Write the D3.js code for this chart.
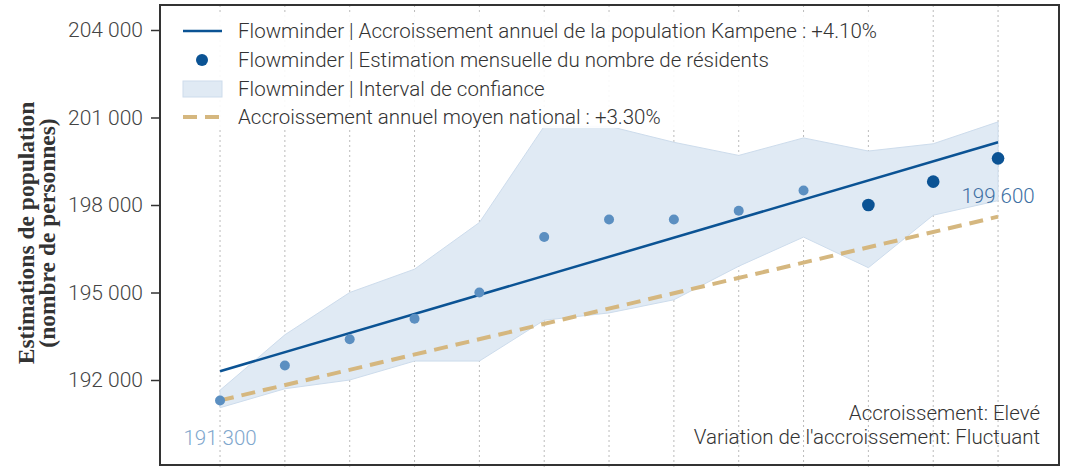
<!DOCTYPE html>
<meta charset="utf-8">
<script src="https://d3js.org/d3.v7.min.js"></script>
<style>
  body { margin: 0; background: #fff; }
</style>
<div id="viz"></div>
<script>

// monthly estimates (index 0..12)
var estimates = [191300, 192500, 193400, 194100, 195000, 196900, 197500, 197500, 197800, 198500, 198000, 198800, 199600];
// confidence interval
var ciUpper = [191650, 193550, 195000, 195800, 197400, 200700, 200700, 200150, 199700, 200300, 199850, 200100, 200850];
var ciLower = [191050, 191700, 192000, 192650, 192650, 194050, 194300, 194750, 195900, 196900, 195850, 197650, 198150];
// trend lines, start / end values
var trendLocal = [192300, 200150];
var trendNational = [191300, 197600];
// last months are drawn darker
var darkFrom = 10;

var yTicks = [192000, 195000, 198000, 201000, 204000];

var legendLabels = [
  "Flowminder | Accroissement annuel de la population Kampene : +4.10%",
  "Flowminder | Estimation mensuelle du nombre de résidents",
  "Flowminder | Interval de confiance",
  "Accroissement annuel moyen national : +3.30%"
];
var notes = ["Accroissement: Elevé", "Variation de l'accroissement: Fluctuant"];

var W = 1069, H = 468;
var margin = {top: 5, right: 10, bottom: 3, left: 160};
var width = W - margin.left - margin.right,
    height = H - margin.top - margin.bottom;

var colDark = "#0b5394", colLight = "#5b8fc1", colBand = "#e0eaf4", colGold = "#d5b77f";
var sans = "Roboto, 'Noto Sans', sans-serif";
var fs = 20.5;

var svg = d3.select("#viz").append("svg")
    .attr("width", W).attr("height", H)
  .append("g")
    .attr("transform", "translate(" + margin.left + "," + margin.top + ")");

var last = estimates.length - 1;
var x = d3.scaleLinear()
    .domain([-0.926, last + 0.94])
    .range([0, width]);

var y = d3.scaleLinear()
    .domain([189086, 204857])
    .range([height, 0]);

var fr = d3.formatLocale({decimal: ",", thousands: " ", grouping: [3], currency: ["", ""]});

// vertical dotted grid
svg.append("g").selectAll("line")
  .data(estimates)
  .enter().append("line")
    .attr("x1", function(d, i) { return x(i); })
    .attr("x2", function(d, i) { return x(i); })
    .attr("y1", 0).attr("y2", height + 3)
    .attr("stroke", "#bbb")
    .attr("stroke-width", 1)
    .attr("stroke-dasharray", "2,3");

// confidence band
var band = d3.area()
    .x(function(d, i) { return x(i); })
    .y0(function(d, i) { return y(ciLower[i]); })
    .y1(function(d, i) { return y(ciUpper[i]); });

svg.append("path")
  .datum(estimates)
  .attr("d", band)
  .attr("fill", colBand)
  .attr("stroke", "#cddcec")
  .attr("stroke-width", 1);

// national trend
svg.append("line")
  .attr("x1", x(0)).attr("y1", y(trendNational[0]))
  .attr("x2", x(last)).attr("y2", y(trendNational[1]))
  .attr("stroke", colGold)
  .attr("stroke-width", 4)
  .attr("stroke-dasharray", "14,8");

// local trend
svg.append("line")
  .attr("x1", x(0)).attr("y1", y(trendLocal[0]))
  .attr("x2", x(last)).attr("y2", y(trendLocal[1]))
  .attr("stroke", colDark)
  .attr("stroke-width", 2.5);

// points
svg.append("g").selectAll("circle")
  .data(estimates)
  .enter().append("circle")
    .attr("cx", function(d, i) { return x(i); })
    .attr("cy", function(d) { return y(d); })
    .attr("r", function(d, i) { return i >= darkFrom ? 6.3 : 5; })
    .attr("fill", function(d, i) { return i >= darkFrom ? colDark : colLight; });

// value labels
svg.append("text")
  .attr("x", x(0)).attr("y", y(estimates[0]) + 45)
  .attr("text-anchor", "middle")
  .style("font-family", sans).style("font-size", fs + "px").style("font-weight", 300)
  .attr("fill", "#7fa7cd")
  .text(fr.format(",")(estimates[0]));

svg.append("text")
  .attr("x", x(last)).attr("y", y(estimates[last]) + 45)
  .attr("text-anchor", "middle")
  .style("font-family", sans).style("font-size", fs + "px").style("font-weight", 300)
  .attr("fill", "#3d6fa3")
  .text(fr.format(",")(estimates[last]));

// legend
var lg = svg.append("g").attr("transform", "translate(10,10)");
lg.append("rect")
  .attr("x", 0).attr("y", 0)
  .attr("width", 720).attr("height", 113)
  .attr("fill", "#fff").attr("fill-opacity", 0.9);

var rowY = [16, 45, 74, 102];
lg.append("line")
  .attr("x1", 13).attr("x2", 52).attr("y1", rowY[0]).attr("y2", rowY[0])
  .attr("stroke", colDark).attr("stroke-width", 2.5);
lg.append("circle")
  .attr("cx", 32).attr("cy", rowY[1]).attr("r", 6).attr("fill", colDark);
lg.append("rect")
  .attr("x", 13).attr("y", rowY[2] - 8).attr("width", 39).attr("height", 16)
  .attr("fill", colBand).attr("stroke", "#cddcec");
lg.append("line")
  .attr("x1", 13).attr("x2", 52).attr("y1", rowY[3]).attr("y2", rowY[3])
  .attr("stroke", colGold).attr("stroke-width", 4).attr("stroke-dasharray", "14,8");

lg.selectAll("text.lab")
  .data(legendLabels)
  .enter().append("text")
    .attr("class", "lab")
    .attr("x", 68)
    .attr("y", function(d, i) { return rowY[i] + 7; })
    .style("font-family", sans).style("font-size", fs + "px").style("font-weight", 300)
    .attr("fill", "#333")
    .text(function(d) { return d; });

// notes
svg.selectAll("text.note")
  .data(notes)
  .enter().append("text")
    .attr("class", "note")
    .attr("x", 880)
    .attr("y", function(d, i) { return 415 + i * 24; })
    .attr("text-anchor", "end")
    .style("font-family", sans).style("font-size", fs + "px").style("font-weight", 300)
    .attr("fill", "#333")
    .text(function(d) { return d; });

// y axis
var yAxis = svg.append("g")
  .call(d3.axisLeft(y).tickValues(yTicks).tickFormat(fr.format(",")).tickSize(9).tickPadding(8));
yAxis.select(".domain").remove();
yAxis.selectAll(".tick line").attr("stroke", "#333").attr("stroke-width", 1.5);
yAxis.selectAll(".tick text")
  .style("font-family", sans).style("font-size", "21px").style("font-weight", 300)
  .attr("fill", "#444");

// frame
svg.append("rect")
  .attr("x", 0).attr("y", 0)
  .attr("width", width).attr("height", height)
  .attr("fill", "none")
  .attr("stroke", "#333")
  .attr("stroke-width", 2);

// y label
var yl = svg.append("text")
  .attr("transform", "translate(-126," + (233 - margin.top) + ") rotate(-90)")
  .attr("text-anchor", "middle")
  .style("font-family", "'Liberation Serif', 'DejaVu Serif', serif")
  .style("font-weight", "bold")
  .style("font-size", "23.5px")
  .attr("fill", "#333");
yl.append("tspan").attr("x", 0).attr("dy", 0).text("Estimations de population");
yl.append("tspan").attr("x", 0).attr("dy", 21).text("(nombre de personnes)");

</script>
